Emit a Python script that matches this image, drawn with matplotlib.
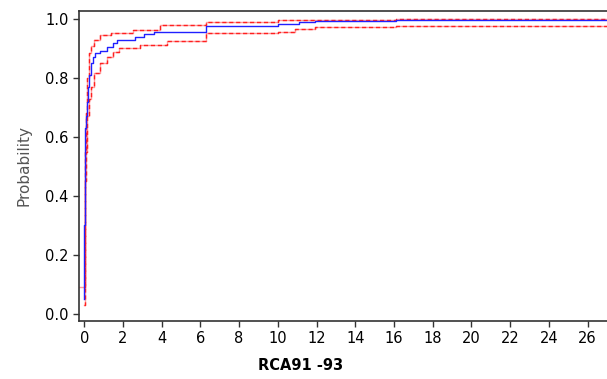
import matplotlib
matplotlib.use("Agg")
import matplotlib.pyplot as plt

# Step-function estimate (blue) with lower/upper confidence bounds (red)
est_x = [0.0, 0.01, 0.02, 0.04, 0.06, 0.08, 0.12, 0.19, 0.26, 0.33, 0.45, 0.58, 0.84, 1.2, 1.5, 1.7, 2.6, 3.1, 3.6, 6.3, 10.0, 11.1, 11.9, 16.1, 27.0]
est_y = [0.05, 0.30, 0.50, 0.58, 0.63, 0.67, 0.72, 0.77, 0.81, 0.85, 0.87, 0.885, 0.89, 0.905, 0.918, 0.929, 0.94, 0.949, 0.957, 0.975, 0.982, 0.989, 0.992, 0.995, 0.995]

up_x = [0.0, 0.02, 0.04, 0.07, 0.1, 0.15, 0.24, 0.35, 0.5, 0.84, 1.4, 2.5, 3.9, 6.3, 10.0, 10.9, 16.1, 27.0]
up_y = [0.09, 0.38, 0.55, 0.62, 0.68, 0.80, 0.885, 0.91, 0.929, 0.946, 0.951, 0.963, 0.98, 0.991, 0.995, 0.998, 1.0, 1.0]

lo_x = [0.0, 0.03, 0.05, 0.08, 0.12, 0.15, 0.25, 0.33, 0.5, 0.84, 1.19, 1.48, 1.8, 2.9, 4.3, 6.3, 10.0, 10.9, 11.9, 16.1, 27.0]
lo_y = [0.03, 0.27, 0.45, 0.55, 0.62, 0.67, 0.73, 0.77, 0.817, 0.85, 0.872, 0.889, 0.90, 0.912, 0.926, 0.951, 0.956, 0.966, 0.972, 0.977, 0.977]

x_ticks = list(range(0, 28, 2))
y_ticks = [0.0, 0.2, 0.4, 0.6, 0.8, 1.0]

fig = plt.figure(figsize=(6.07, 3.79), dpi=100)
ax = fig.add_axes([79/607, 1-321/379, 1-79/607, (321-11)/379])

for xs, ys in [(up_x, up_y), (lo_x, lo_y)]:
    ax.step(xs, ys, where='post', color='#ff9a9a', lw=1.0, zorder=2)
    ax.step(xs, ys, where='post', color='#ff2020', lw=1.0, ls=(0, (3, 2)), zorder=3)
ax.step(est_x, est_y, where='post', color='#2020ff', lw=1.0, zorder=4)
ax.plot([-0.3, 0.0], [0.09, 0.09], color='#ff9a9a', lw=1.0, zorder=2)

ax.set_xlim(-0.27, 27)
ax.set_ylim(-0.024, 1.027)
ax.set_xticks(x_ticks)
ax.set_yticks(y_ticks)
ax.set_yticklabels([f"{v:.1f}" for v in y_ticks])
for s in ['left', 'bottom', 'top']:
    ax.spines[s].set_color('#333333')
    ax.spines[s].set_linewidth(1.2)
ax.spines['right'].set_visible(False)
ax.tick_params(direction='out', length=4, width=1, colors='#333333', labelcolor='black', labelsize=10.5)

ax.set_ylabel("Probability", fontsize=11, color='#555555', labelpad=10)
ax.set_xlabel("RCA91 -93", fontsize=10.5, fontweight='bold')
ax.xaxis.set_label_coords(0.419, -0.12)

fig.savefig("out.png", dpi=100)
